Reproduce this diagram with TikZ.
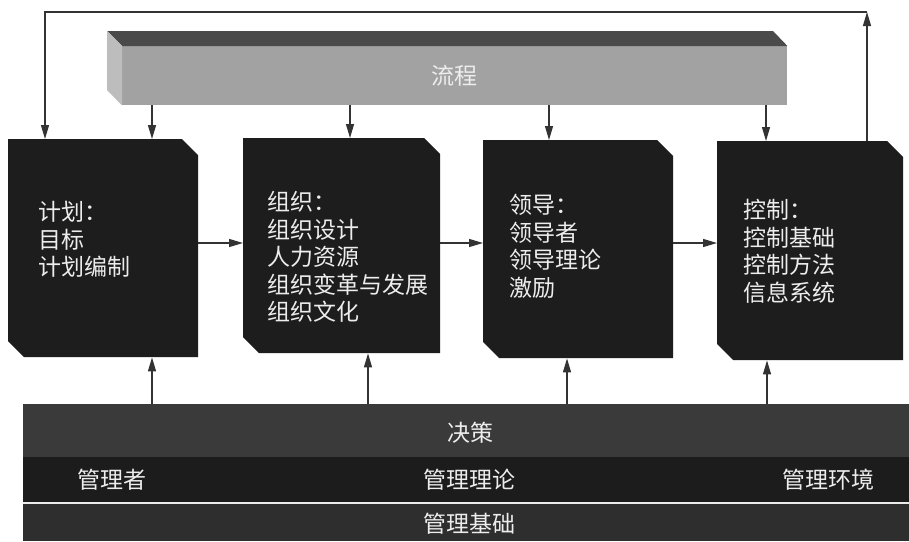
\documentclass[tikz,border=0pt]{standalone}
\usepackage{fontspec}
\setmainfont{Noto Sans CJK SC}
\usetikzlibrary{arrows.meta,calc}
\definecolor{boxc}{HTML}{1D1D1D}
\definecolor{barfront}{HTML}{A2A2A2}
\definecolor{bartop}{HTML}{4A4A4A}
\definecolor{barside}{HTML}{BDBDBD}
\definecolor{bandA}{HTML}{3A3A3A}
\definecolor{bandB}{HTML}{1C1C1C}
\definecolor{bandC}{HTML}{2E2E2E}
\definecolor{linec}{HTML}{333333}
\definecolor{txtc}{HTML}{EDEDED}
\begin{document}
\begin{tikzpicture}[x=1pt,y=-1pt,
  box/.style={rectangle, draw=none, inner sep=0pt, anchor=north west,
    path picture={
      \fill[boxc] (path picture bounding box.north west)
        -- ($(path picture bounding box.north east)!16pt!(path picture bounding box.north west)$)
        -- ($(path picture bounding box.north east)!16pt!(path picture bounding box.south east)$)
        -- (path picture bounding box.south east)
        -- ($(path picture bounding box.south west)!16pt!(path picture bounding box.south east)$)
        -- ($(path picture bounding box.south west)!16pt!(path picture bounding box.north west)$)
        -- cycle;}},
  band/.style={rectangle, draw=none, inner sep=0pt, anchor=north west, minimum width=886pt},
  boxtext/.style={anchor=north west, align=left, inner sep=0pt, text=txtc,
    font=\fontsize{23}{27.5}\selectfont},
  lbl/.style={inner sep=0pt, text=txtc, font=\fontsize{23}{27.5}\selectfont},
  arr/.style={draw=linec, line width=1.3pt, -{Triangle[length=14pt,width=8pt]}},
  ln/.style={draw=linec, line width=1.3pt}]
\useasboundingbox (0,0) rectangle (909,541);
\fill[white] (0,0) rectangle (909,541);

% top 3D bar
\node[rectangle, fill=barfront, inner sep=0pt, anchor=north west,
  minimum width=665pt, minimum height=59pt, text=txtc,
  font=\fontsize{23}{27.5}\selectfont] (bar) at (122,46) {流程};
\fill[bartop] (107,31) -- (773,31) -- (bar.north east) -- (bar.north west) -- cycle;
\fill[barside] (107,31) -- (bar.north west) -- (bar.south west) -- (107,90) -- cycle;

% boxes
\node[box, minimum width=190pt, minimum height=218pt] (b1) at (8,139) {};
\node[box, minimum width=197pt, minimum height=215pt] (b2) at (243,138) {};
\node[box, minimum width=190pt, minimum height=218pt] (b3) at (483,140) {};
\node[box, minimum width=186pt, minimum height=219pt] (b4) at (717,141) {};

\node[boxtext] (t1) at (38,201) {计划：\\目标\\计划编制};
\node[boxtext] (t2) at (267,191) {组织：\\组织设计\\人力资源\\组织变革与发展\\组织文化};
\node[boxtext] (t3) at (509,194) {领导：\\领导者\\领导理论\\激励};
\node[boxtext] (t4) at (743,199) {控制：\\控制基础\\控制方法\\信息系统};

% bottom bands
\node[band, fill=bandA, minimum height=53pt] (jc) at (23,404) {};
\node[band, fill=bandB, minimum height=45pt] (mid) at (23,457) {};
\fill[white!92!black] (mid.south west) rectangle (909,504);
\node[band, fill=bandC, minimum height=37pt] (base) at (23,504) {};

\node[lbl] (l1) at (470,433) {决策};
\node[lbl] (l2) at (112,480) {管理者};
\node[lbl] (l3) at (469,480) {管理理论};
\node[lbl] (l4) at (828,480) {管理环境};
\node[lbl] (l5) at (469,524) {管理基础};

% horizontal arrows
\draw[arr] (b1.east |- 0,243) -- (b2.west |- 0,243);
\draw[arr] (b2.east |- 0,243) -- (b3.west |- 0,243);
\draw[arr] (b3.east |- 0,243) -- (b4.west |- 0,243);

% bar to boxes
\draw[arr] (bar.south -| 152,0) -- (b1.north -| 152,0);
\draw[arr] (bar.south -| 350,0) -- (b2.north -| 350,0);
\draw[arr] (bar.south -| 549,0) -- (b3.north -| 549,0);
\draw[arr] (bar.south -| 766,0) -- (b4.north -| 766,0);

% decision to boxes
\draw[arr] (jc.north -| 152,0) -- (b1.south -| 152,0);
\draw[arr] (jc.north -| 368,0) -- (b2.south -| 368,0);
\draw[arr] (jc.north -| 567,0) -- (b3.south -| 567,0);
\draw[arr] (jc.north -| 767,0) -- (b4.south -| 767,0);

% feedback loop
\coordinate (loopR) at (867,12);
\coordinate (loopL) at (45,12);
\draw[arr] (b4.north -| loopR) -- (loopR);
\draw[arr] (loopR) -- (loopL) -- (b1.north -| loopL);
\end{tikzpicture}
\end{document}
